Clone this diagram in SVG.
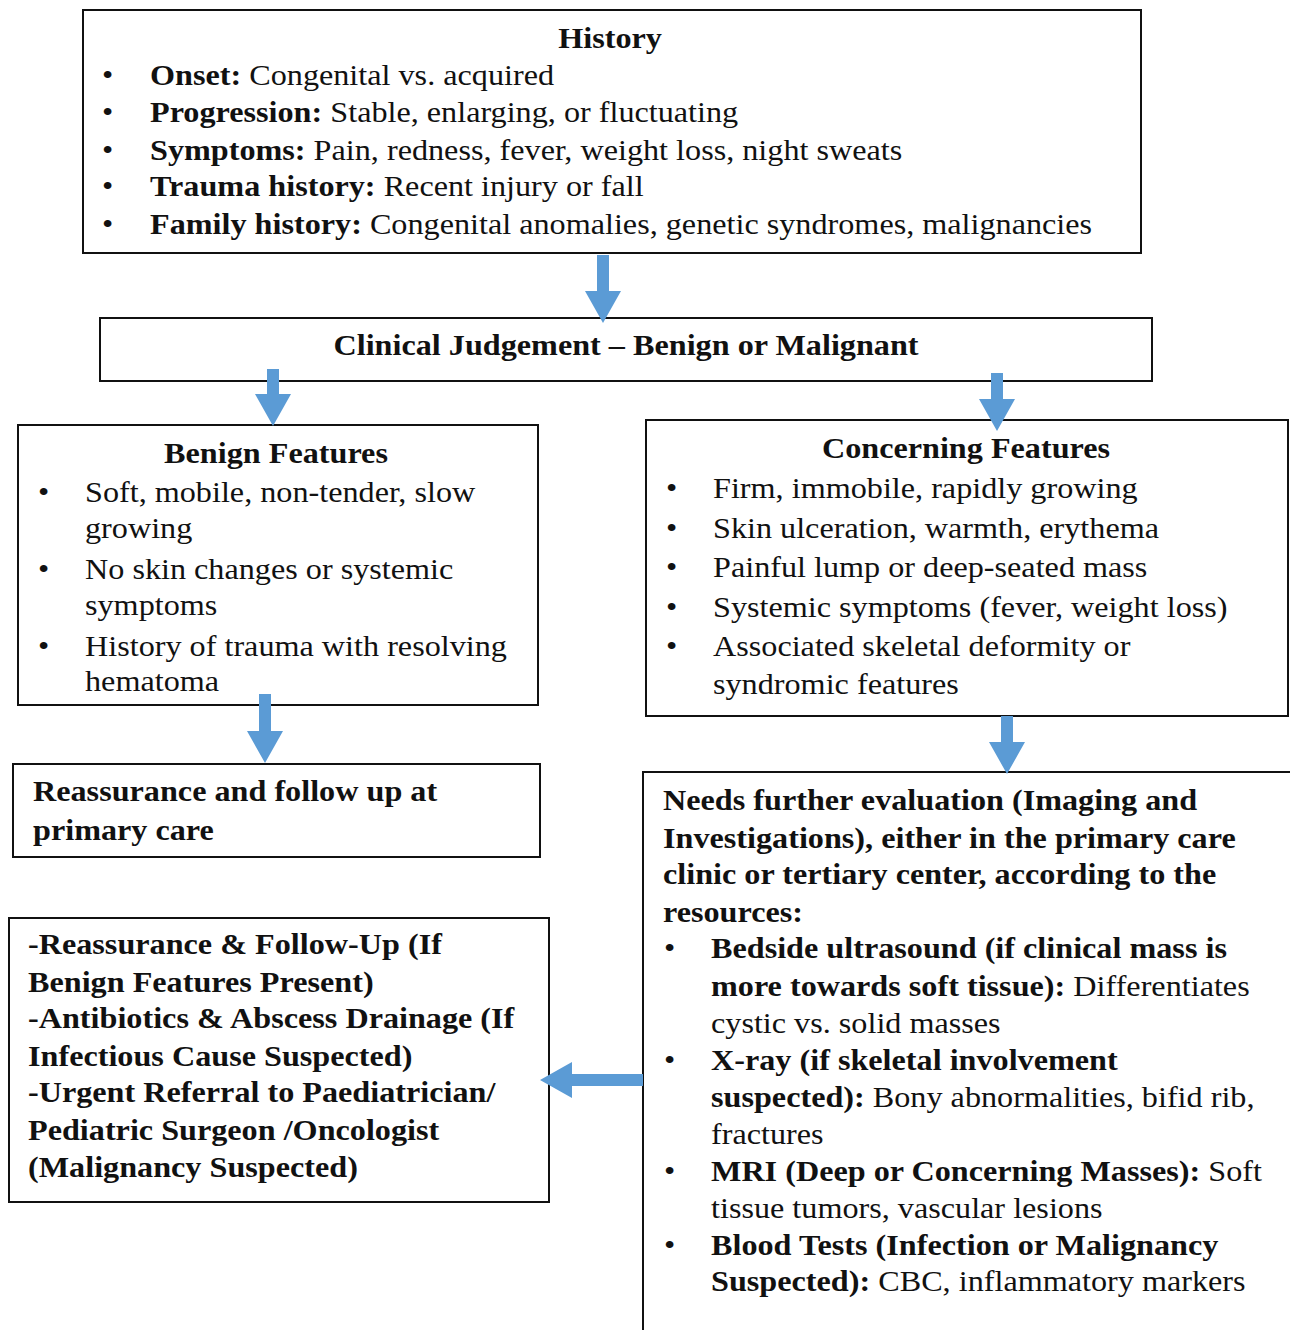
<svg xmlns="http://www.w3.org/2000/svg" width="1290" height="1330" viewBox="0 0 1290 1330">
  <style>
    .box { fill: #ffffff; stroke: #111111; stroke-width: 2; }
    text { font-family: "Liberation Serif", "Times New Roman", serif; font-size: 30px; fill: #111111; }
    .b { font-weight: bold; }
    .c { text-anchor: middle; }
    .arrow { fill: #5B9BD5; }
  </style>
  <rect width="1290" height="1330" fill="#ffffff"/>

  <!-- every line is set at 30px and widened slightly: translate(x y) scale(1.073 1) -->
  <g id="history">
    <rect class="box" x="83" y="10" width="1058" height="243"/>
    <text class="b c" transform="translate(610 48) scale(1.073 1)">History</text>
    <text transform="translate(102 85) scale(1.073 1)">•</text>
    <text transform="translate(150 85) scale(1.073 1)"><tspan class="b">Onset:</tspan> Congenital vs. acquired</text>
    <text transform="translate(102 122) scale(1.073 1)">•</text>
    <text transform="translate(150 122) scale(1.073 1)"><tspan class="b">Progression:</tspan> Stable, enlarging, or fluctuating</text>
    <text transform="translate(102 160) scale(1.073 1)">•</text>
    <text transform="translate(150 160) scale(1.073 1)"><tspan class="b">Symptoms:</tspan> Pain, redness, fever, weight loss, night sweats</text>
    <text transform="translate(102 196) scale(1.073 1)">•</text>
    <text transform="translate(150 196) scale(1.073 1)"><tspan class="b">Trauma history:</tspan> Recent injury or fall</text>
    <text transform="translate(102 234) scale(1.073 1)">•</text>
    <text transform="translate(150 234) scale(1.073 1)"><tspan class="b">Family history:</tspan> Congenital anomalies, genetic syndromes, malignancies</text>
  </g>

  <g id="judgement">
    <rect class="box" x="100" y="318" width="1052" height="63"/>
    <text class="b c" transform="translate(626 355) scale(1.073 1)">Clinical Judgement – Benign or Malignant</text>
  </g>

  <g id="benign">
    <rect class="box" x="18" y="425" width="520" height="280"/>
    <text class="b c" transform="translate(276 463) scale(1.073 1)">Benign Features</text>
    <text transform="translate(38 502) scale(1.073 1)">•</text>
    <text transform="translate(85 502) scale(1.073 1)">Soft, mobile, non-tender, slow</text>
    <text transform="translate(85 538) scale(1.073 1)">growing</text>
    <text transform="translate(38 579) scale(1.073 1)">•</text>
    <text transform="translate(85 579) scale(1.073 1)">No skin changes or systemic</text>
    <text transform="translate(85 615) scale(1.073 1)">symptoms</text>
    <text transform="translate(38 656) scale(1.073 1)">•</text>
    <text transform="translate(85 656) scale(1.073 1)">History of trauma with resolving</text>
    <text transform="translate(85 691) scale(1.073 1)">hematoma</text>
  </g>

  <g id="concerning">
    <rect class="box" x="646" y="420" width="642" height="296"/>
    <text class="b c" transform="translate(966 458) scale(1.073 1)">Concerning Features</text>
    <text transform="translate(666 498) scale(1.073 1)">•</text>
    <text transform="translate(713 498) scale(1.073 1)">Firm, immobile, rapidly growing</text>
    <text transform="translate(666 538) scale(1.073 1)">•</text>
    <text transform="translate(713 538) scale(1.073 1)">Skin ulceration, warmth, erythema</text>
    <text transform="translate(666 577) scale(1.073 1)">•</text>
    <text transform="translate(713 577) scale(1.073 1)">Painful lump or deep-seated mass</text>
    <text transform="translate(666 617) scale(1.073 1)">•</text>
    <text transform="translate(713 617) scale(1.073 1)">Systemic symptoms (fever, weight loss)</text>
    <text transform="translate(666 656) scale(1.073 1)">•</text>
    <text transform="translate(713 656) scale(1.073 1)">Associated skeletal deformity or</text>
    <text transform="translate(713 694) scale(1.073 1)">syndromic features</text>
  </g>

  <g id="reassurance">
    <rect class="box" x="13" y="764" width="527" height="93"/>
    <text class="b" transform="translate(33 801) scale(1.073 1)">Reassurance and follow up at</text>
    <text class="b" transform="translate(33 840) scale(1.073 1)">primary care</text>
  </g>

  <g id="evaluation">
    <path class="box" d="M1291,772 H643 V1331" fill="none"/>
    <text class="b" transform="translate(663 810) scale(1.073 1)">Needs further evaluation (Imaging and</text>
    <text class="b" transform="translate(663 848) scale(1.073 1)">Investigations), either in the primary care</text>
    <text class="b" transform="translate(663 884) scale(1.073 1)">clinic or tertiary center, according to the</text>
    <text class="b" transform="translate(663 922) scale(1.073 1)">resources:</text>
    <text transform="translate(664 958) scale(1.073 1)">•</text>
    <text class="b" transform="translate(711 958) scale(1.073 1)">Bedside ultrasound (if clinical mass is</text>
    <text transform="translate(711 996) scale(1.073 1)"><tspan class="b">more towards soft tissue):</tspan> Differentiates</text>
    <text transform="translate(711 1033) scale(1.073 1)">cystic vs. solid masses</text>
    <text transform="translate(664 1070) scale(1.073 1)">•</text>
    <text class="b" transform="translate(711 1070) scale(1.073 1)">X-ray (if skeletal involvement</text>
    <text transform="translate(711 1107) scale(1.073 1)"><tspan class="b">suspected):</tspan> Bony abnormalities, bifid rib,</text>
    <text transform="translate(711 1144) scale(1.073 1)">fractures</text>
    <text transform="translate(664 1181) scale(1.073 1)">•</text>
    <text transform="translate(711 1181) scale(1.073 1)"><tspan class="b">MRI (Deep or Concerning Masses):</tspan> Soft</text>
    <text transform="translate(711 1218) scale(1.073 1)">tissue tumors, vascular lesions</text>
    <text transform="translate(664 1255) scale(1.073 1)">•</text>
    <text class="b" transform="translate(711 1255) scale(1.073 1)">Blood Tests (Infection or Malignancy</text>
    <text transform="translate(711 1291) scale(1.073 1)"><tspan class="b">Suspected):</tspan> CBC, inflammatory markers</text>
  </g>

  <g id="management">
    <rect class="box" x="9" y="918" width="540" height="284"/>
    <text class="b" transform="translate(28 954) scale(1.073 1)">-Reassurance &amp; Follow-Up (If</text>
    <text class="b" transform="translate(28 992) scale(1.073 1)">Benign Features Present)</text>
    <text class="b" transform="translate(28 1028) scale(1.073 1)">-Antibiotics &amp; Abscess Drainage (If</text>
    <text class="b" transform="translate(28 1066) scale(1.073 1)">Infectious Cause Suspected)</text>
    <text class="b" transform="translate(28 1102) scale(1.073 1)">-Urgent Referral to Paediatrician/</text>
    <text class="b" transform="translate(28 1140) scale(1.073 1)">Pediatric Surgeon /Oncologist</text>
    <text class="b" transform="translate(28 1177) scale(1.073 1)">(Malignancy Suspected)</text>
  </g>

  <g id="connectors">
    <!-- block arrows: shaft then triangular head -->
    <path class="arrow" d="M597,255 H609 V291 H621 L603,323 L585,291 H597 Z"/>
    <path class="arrow" d="M267,369 H279 V394 H291 L273,426 L255,394 H267 Z"/>
    <path class="arrow" d="M991,373 H1003 V399 H1015 L997,431 L979,399 H991 Z"/>
    <path class="arrow" d="M259,694 H271 V731 H283 L265,763 L247,731 H259 Z"/>
    <path class="arrow" d="M1001,716 H1013 V742 H1025 L1007,774 L989,742 H1001 Z"/>
    <path class="arrow" d="M643,1074 V1086 H572 V1098 L540,1080 L572,1062 V1074 Z"/>
  </g>
</svg>
